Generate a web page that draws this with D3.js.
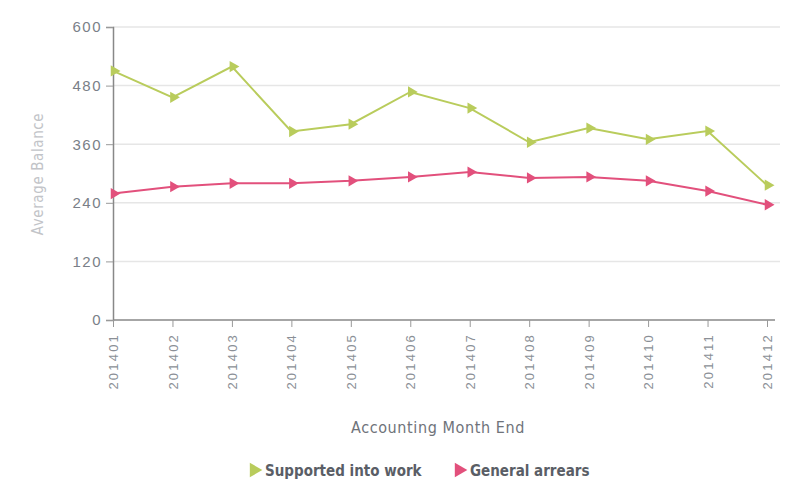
<!DOCTYPE html>
<html><head><meta charset="utf-8">
<script src="https://cdn.jsdelivr.net/npm/d3@7"></script>
<style>body{margin:0;background:#fff;}svg{display:block;font-family:"DejaVu Sans Condensed","Liberation Sans Narrow","Roboto",sans-serif;}</style>
</head><body>
<svg id="c" width="795" height="495"></svg>
<script>
const categories = ["201401","201402","201403","201404","201405","201406","201407","201408","201409","201410","201411","201412"];
const supportedIntoWork = [510, 456, 519, 386, 401, 467, 434, 364, 393, 370, 387, 276];
const generalArrears = [259, 273, 280, 280, 285, 293, 303, 291, 293, 285, 264, 236];
const yTicks = [0, 120, 240, 360, 480, 600];
const seriesNames = ["Supported into work", "General arrears"];
const seriesColors = ["#b9cc5c", "#e2507c"];

const svg = d3.select("#c");
const m = {left:113, right:767, top:27, bottom:320};
const x = d3.scalePoint().domain(categories).range([m.left, m.right]);
const y = d3.scaleLinear().domain([0,600]).range([m.bottom, m.top]);

// gridlines
svg.append("g").selectAll("line").data(yTicks.filter(d=>d>0)).join("line")
  .attr("x1", m.left).attr("x2", 780).attr("y1", d=>y(d)).attr("y2", d=>y(d))
  .attr("stroke","#e6e6e6").attr("stroke-width",1.5);

// y axis
const ya = svg.append("g").attr("transform",`translate(${m.left},0)`)
  .call(d3.axisLeft(y).tickValues(yTicks).tickSize(7).tickPadding(4));
ya.select(".domain").attr("stroke","#888").attr("stroke-width",1.5);
ya.selectAll(".tick line").attr("stroke","#999");
ya.selectAll("text").attr("fill","#7a7f88").attr("font-size",15).style("letter-spacing","1.5px");

// x axis
const xa = svg.append("g").attr("transform",`translate(0,${m.bottom})`)
  .call(d3.axisBottom(x).tickSize(7).tickSizeOuter(0));
xa.select(".domain").attr("stroke","#888").attr("stroke-width",1.5).attr("d",`M${m.left},0H775`);
xa.selectAll(".tick line").attr("stroke","#999");
xa.selectAll("text").attr("fill","#8a8f96").attr("font-size",13).style("letter-spacing","2.2px")
  .attr("transform","rotate(-90)").attr("text-anchor","end").attr("dx","-13").attr("dy","0.35em").attr("x",0).attr("y",0);

// axis titles
svg.append("text").attr("transform",`translate(43,174) rotate(-90)`).attr("text-anchor","middle")
  .attr("fill","#c2c4c8").attr("font-size",15).style("letter-spacing","0.6px").text("Average Balance");
svg.append("text").attr("x",438).attr("y",433).attr("text-anchor","middle")
  .attr("fill","#6f737a").attr("font-size",16).style("letter-spacing","0.6px").text("Accounting Month End");

const tri = d3.symbol().type(d3.symbolTriangle).size(55);
const series = [supportedIntoWork, generalArrears];
series.forEach((vals,i)=>{
  const line = d3.line().x((d,j)=>x(categories[j])).y(d=>y(d));
  svg.append("path").datum(vals).attr("d",line).attr("fill","none")
    .attr("stroke",seriesColors[i]).attr("stroke-width",2);
  svg.append("g").selectAll("path").data(vals).join("path")
    .attr("d",tri).attr("fill",seriesColors[i])
    .attr("transform",(d,j)=>`translate(${x(categories[j])+1},${y(d)}) rotate(90)`);
});

// legend
const legX = [254, 459];
seriesNames.forEach((n,i)=>{
  svg.append("path").attr("d",d3.symbol().type(d3.symbolTriangle).size(90))
    .attr("fill",seriesColors[i]).attr("transform",`translate(${legX[i]},470) rotate(90)`);
  svg.append("text").attr("x",legX[i]+11).attr("y",476).attr("fill","#5a5e66")
    .attr("font-size",15).attr("font-weight",700).text(n);
});
</script>
</body></html>
